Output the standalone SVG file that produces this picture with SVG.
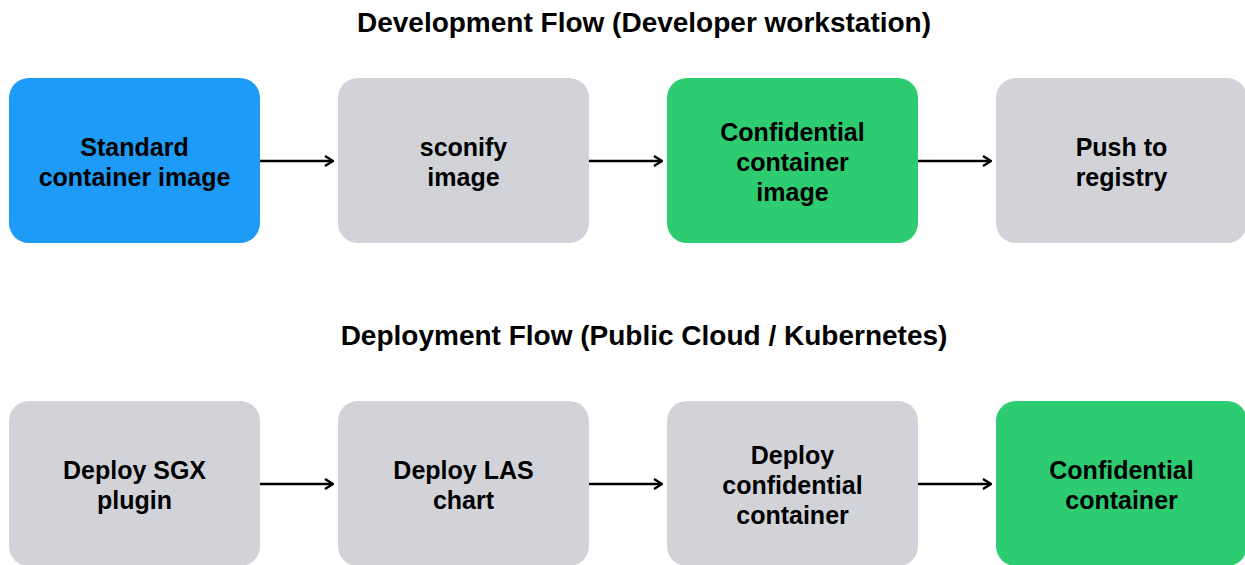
<svg xmlns="http://www.w3.org/2000/svg" width="1245" height="565" viewBox="0 0 1245 565">
<defs>
<marker id="arr" viewBox="0 0 10 12" refX="9" refY="6" markerWidth="10" markerHeight="12" markerUnits="userSpaceOnUse" orient="auto">
<path d="M1,1 L9,6 L1,11" fill="none" stroke="#000" stroke-width="2.4"/>
</marker>
<style>
.box{rx:20px;ry:20px}
.blue{fill:#1E9BF7}
.green{fill:#2ECC71}
.gray{fill:#D1D3D8}
.t{font-family:"Liberation Sans",Arial,sans-serif;font-weight:bold;font-size:25px;fill:#000;text-anchor:middle}
.title{font-family:"Liberation Sans",Arial,sans-serif;font-weight:bold;font-size:28px;fill:#000;text-anchor:middle}
.c{stroke:#000;stroke-width:2.5;fill:none}
</style>
</defs>
<rect width="1245" height="565" fill="#fff"/>
<text class="title" x="644" y="32">Development Flow (Developer workstation)</text>
<text class="title" x="644" y="345">Deployment Flow (Public Cloud / Kubernetes)</text>

<g id="n1"><rect class="box blue" x="9" y="78" width="251" height="165"/>
<text class="t" x="134.5" y="156">Standard</text><text class="t" x="134.5" y="186">container image</text></g>
<g id="n2"><rect class="box gray" x="338" y="78" width="251" height="165"/>
<text class="t" x="463.5" y="156">sconify</text><text class="t" x="463.5" y="186">image</text></g>
<g id="n3"><rect class="box green" x="667" y="78" width="251" height="165"/>
<text class="t" x="792.5" y="141">Confidential</text><text class="t" x="792.5" y="171">container</text><text class="t" x="792.5" y="201">image</text></g>
<g id="n4"><rect class="box gray" x="996" y="78" width="251" height="165"/>
<text class="t" x="1121.5" y="156">Push to</text><text class="t" x="1121.5" y="186">registry</text></g>

<g id="n5"><rect class="box gray" x="9" y="401" width="251" height="165"/>
<text class="t" x="134.5" y="479">Deploy SGX</text><text class="t" x="134.5" y="509">plugin</text></g>
<g id="n6"><rect class="box gray" x="338" y="401" width="251" height="165"/>
<text class="t" x="463.5" y="479">Deploy LAS</text><text class="t" x="463.5" y="509">chart</text></g>
<g id="n7"><rect class="box gray" x="667" y="401" width="251" height="165"/>
<text class="t" x="792.5" y="464">Deploy</text><text class="t" x="792.5" y="494">confidential</text><text class="t" x="792.5" y="524">container</text></g>
<g id="n8"><rect class="box green" x="996" y="401" width="251" height="165"/>
<text class="t" x="1121.5" y="479">Confidential</text><text class="t" x="1121.5" y="509">container</text></g>

<g id="connectors">
<line class="c" x1="260" y1="161" x2="333" y2="161" marker-end="url(#arr)"/>
<line class="c" x1="589" y1="161" x2="662" y2="161" marker-end="url(#arr)"/>
<line class="c" x1="918" y1="161" x2="991" y2="161" marker-end="url(#arr)"/>
<line class="c" x1="260" y1="484" x2="333" y2="484" marker-end="url(#arr)"/>
<line class="c" x1="589" y1="484" x2="662" y2="484" marker-end="url(#arr)"/>
<line class="c" x1="918" y1="484" x2="991" y2="484" marker-end="url(#arr)"/>
</g>
</svg>
